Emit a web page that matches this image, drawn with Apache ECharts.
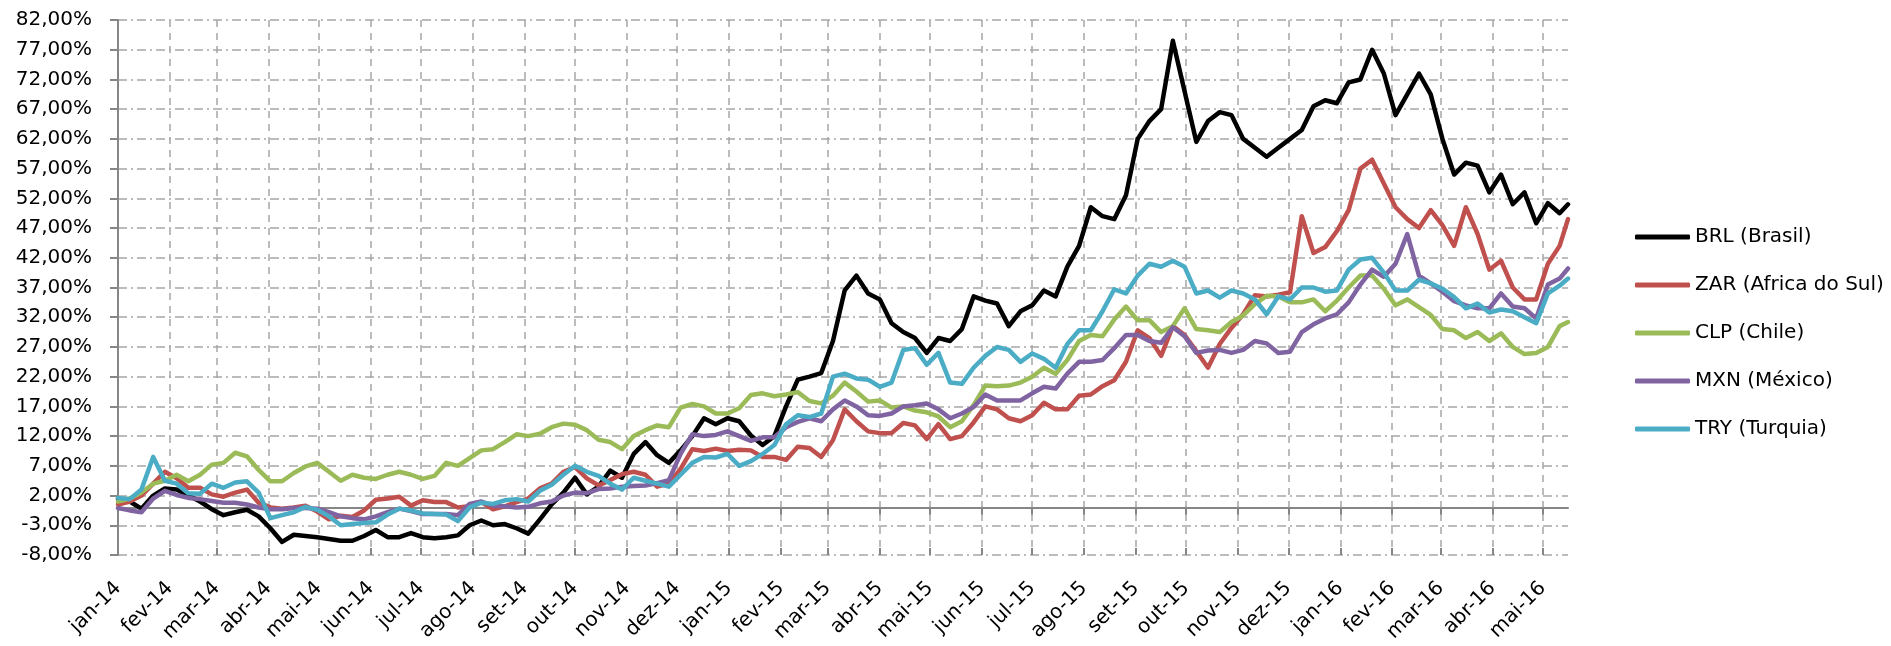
<!DOCTYPE html>
<html>
<head>
<meta charset="UTF-8">
<title>Moedas emergentes</title>
<script src="https://cdn.jsdelivr.net/npm/echarts@6/dist/echarts.min.js"></script>
<style>
	html, body { margin: 0; padding: 0; background: #fff; }
	#container { width: 1891px; height: 646px; }
</style>
</head>
<body>
	<div id="container"></div>
	<script type="text/javascript">
		// meses para os rotulos do eixo x
		var meses = ['jan', 'fev', 'mar', 'abr', 'mai', 'jun', 'jul', 'ago', 'set', 'out', 'nov', 'dez'];

		// pontos semanais: dias desde 01/01/2014 (ultimo ponto em 16/05/2016)
		var dias = [];
		for (var k = 0; k <= 123; k++) {
			dias.push(k * 7);
		}
		dias.push(866);

		// variacao acumulada (%)
		var brl = [1.5, 1.0, -0.2, 2.0, 3.2, 3.0, 2.0, 1.0, -0.3, -1.3,
			-0.8, -0.4, -1.5, -3.5, -5.8, -4.6, -4.8, -5.0, -5.3, -5.6,
			-5.6, -4.8, -3.8, -5.0, -5.0, -4.3, -5.0, -5.2, -5.0, -4.7,
			-3.0, -2.2, -3.0, -2.8, -3.5, -4.4, -2.0, 0.5, 2.5, 5.0,
			2.2, 3.5, 6.2, 5.0, 9.0, 11.0, 8.8, 7.5, 9.6, 12.0,
			15.0, 14.0, 15.0, 14.5, 12.1, 10.5, 12.0, 17.0, 21.5, 22.0,
			22.6, 28.0, 36.5, 39.0, 36.0, 35.0, 31.0, 29.5, 28.5, 26.0,
			28.5, 28.0, 30.0, 35.5, 34.8, 34.3, 30.5, 33.0, 34.0, 36.5,
			35.5, 40.5, 44.0, 50.5, 49.0, 48.5, 52.5, 62.0, 65.0, 67.0,
			78.5, 70.0, 61.5, 65.0, 66.5, 66.0, 62.0, 60.5, 59.0, 60.5,
			62.0, 63.5, 67.5, 68.5, 68.0, 71.5, 72.0, 77.0, 73.0, 66.0,
			69.5, 73.0, 69.5, 62.0, 56.0, 58.0, 57.5, 53.0, 56.0, 51.0,
			53.0, 47.8, 51.2, 49.5, 51.0];
		var zar = [0.5, 1.0, 2.0, 4.0, 6.0, 4.9, 3.3, 3.3, 2.2, 1.8,
			2.5, 3.0, 0.8, 0.0, -0.2, 0.0, 0.3, -0.7, -2.0, -1.4,
			-1.6, -0.5, 1.3, 1.5, 1.8, 0.3, 1.2, 0.9, 0.9, 0.0,
			0.2, 0.9, -0.3, 0.2, 0.9, 1.5, 3.2, 4.0, 6.0, 6.8,
			4.9, 3.7, 4.6, 5.6, 6.0, 5.5, 3.5, 4.0, 6.5, 9.8,
			9.5, 9.9, 9.5, 9.7, 9.6, 8.5, 8.5, 8.0, 10.2, 10.0,
			8.5, 11.3, 16.5, 14.5, 12.8, 12.5, 12.5, 14.2, 13.8, 11.5,
			14.0, 11.5, 12.0, 14.3, 17.0, 16.5, 15.0, 14.5, 15.5, 17.6,
			16.5, 16.5, 18.8, 19.0, 20.4, 21.4, 24.5, 29.8, 28.5, 25.5,
			30.5, 29.0, 26.3, 23.5, 27.5, 30.2, 32.5, 35.7, 35.5, 35.8,
			36.2, 49.0, 42.8, 43.8, 46.5, 50.0, 57.0, 58.5, 54.5, 50.5,
			48.5, 47.0, 50.0, 47.5, 44.0, 50.5, 46.0, 40.0, 41.5, 37.0,
			35.0, 35.0, 41.0, 44.0, 48.5];
		var clp = [1.0, 1.5, 2.5, 4.0, 4.5, 5.5, 4.4, 5.5, 7.2, 7.5,
			9.2, 8.6, 6.3, 4.4, 4.4, 5.8, 6.9, 7.5, 6.0, 4.5,
			5.5, 5.0, 4.8, 5.5, 6.0, 5.5, 4.8, 5.3, 7.5, 7.0,
			8.3, 9.6, 9.8, 11.0, 12.3, 12.0, 12.4, 13.5, 14.1, 13.9,
			13.0, 11.4, 11.0, 9.8, 12.0, 13.0, 13.8, 13.5, 16.8, 17.4,
			17.0, 15.8, 15.8, 16.7, 18.9, 19.2, 18.7, 19.0, 19.4, 17.9,
			17.5, 18.8, 21.0, 19.5, 17.8, 18.0, 16.8, 17.0, 16.3, 16.0,
			15.3, 13.5, 14.5, 17.2, 20.5, 20.4, 20.5, 21.0, 22.0, 23.5,
			22.5, 24.8, 28.0, 29.0, 28.8, 31.6, 33.8, 31.5, 31.5, 29.5,
			30.5, 33.5, 30.0, 29.8, 29.5, 31.2, 32.3, 34.2, 35.6, 35.5,
			34.5, 34.5, 35.0, 33.0, 34.8, 37.0, 39.0, 39.0, 36.8, 34.0,
			35.0, 33.7, 32.4, 30.0, 29.8, 28.5, 29.5, 28.0, 29.3, 27.0,
			25.8, 26.0, 27.0, 30.5, 31.2];
		var mxn = [-0.1, -0.5, -0.8, 1.5, 2.8, 2.1, 1.6, 1.4, 1.1, 0.8,
			0.8, 0.5, 0.0, -0.3, -0.3, -0.1, -0.1, -0.2, -0.8, -1.5,
			-1.8, -2.0, -1.5, -0.8, -0.2, -0.6, -1.1, -1.1, -1.1, -1.3,
			0.6, 1.0, 0.3, 0.2, 0.0, 0.1, 0.7, 1.0, 2.0, 2.5,
			2.4, 3.1, 3.2, 3.5, 3.6, 3.7, 4.1, 4.6, 9.0, 12.3,
			12.0, 12.2, 12.8, 12.0, 11.2, 11.8, 11.8, 13.5, 14.4, 15.0,
			14.5, 16.5, 18.0, 17.0, 15.5, 15.4, 15.8, 17.0, 17.2, 17.5,
			16.5, 15.0, 15.8, 16.9, 19.0, 18.0, 18.0, 18.0, 19.2, 20.3,
			20.0, 22.5, 24.5, 24.5, 24.8, 26.8, 29.0, 29.0, 28.0, 27.7,
			30.3, 28.8, 26.0, 26.4, 26.5, 26.0, 26.5, 28.0, 27.6, 26.0,
			26.2, 29.5, 30.8, 31.8, 32.5, 34.5, 37.5, 40.0, 38.8, 41.0,
			46.0, 39.0, 37.7, 36.3, 34.7, 34.0, 33.5, 33.5, 36.0, 33.8,
			33.5, 31.8, 37.5, 38.5, 40.2];
		var tryl = [1.6, 1.4, 3.0, 8.5, 4.5, 4.0, 2.4, 2.3, 4.0, 3.3,
			4.2, 4.4, 2.5, -1.8, -1.3, -0.8, 0.1, -0.4, -1.5, -3.0,
			-2.8, -2.6, -2.5, -1.2, -0.2, -0.5, -1.0, -1.1, -1.2, -2.3,
			0.0, 0.8, 0.6, 1.2, 1.4, 1.0, 2.8, 3.8, 5.5, 7.0,
			6.0, 5.3, 4.0, 3.0, 5.0, 4.5, 4.0, 3.5, 5.5, 7.5,
			8.5, 8.4, 9.0, 7.0, 7.8, 9.0, 10.5, 14.0, 15.5, 15.2,
			15.8, 22.0, 22.5, 21.7, 21.5, 20.3, 21.0, 26.5, 26.8, 24.0,
			26.0, 21.0, 20.8, 23.5, 25.5, 27.0, 26.5, 24.5, 25.9, 25.0,
			23.5, 27.5, 29.8, 29.8, 33.0, 36.7, 36.0, 39.0, 41.0, 40.5,
			41.5, 40.5, 36.0, 36.5, 35.3, 36.5, 36.0, 35.0, 32.5, 35.5,
			35.0, 37.0, 37.0, 36.3, 36.5, 40.0, 41.7, 42.0, 39.5, 36.5,
			36.5, 38.3, 37.7, 36.8, 35.4, 33.5, 34.3, 32.8, 33.3, 33.0,
			32.0, 31.0, 36.0, 37.3, 38.5];

		var nomes = ['BRL (Brasil)', 'ZAR (Africa do Sul)', 'CLP (Chile)', 'MXN (México)', 'TRY (Turquia)'];
		var cores = ['#000000', '#C0504D', '#9BBB59', '#8064A2', '#4BACC6'];
		var valores = [brl, zar, clp, mxn, tryl];

		// eixo x: um item por dia
		function dois(n) { return n < 10 ? '0' + n : '' + n; }
		var categorias = [];
		var inicio = Date.UTC(2014, 0, 1);
		for (var i = 0; i <= 866; i++) {
			var dt = new Date(inicio + i * 86400000);
			categorias.push(dt.getUTCFullYear() + '-' + dois(dt.getUTCMonth() + 1) + '-' + dois(dt.getUTCDate()));
		}
		function inicioMes(idx, val) {
			return val.slice(8) === '01';
		}
		function rotulo(val) {
			var p = val.split('-');
			return meses[+p[1] - 1] + '-' + p[0].slice(2);
		}

		var fonte = 'DejaVu Sans';
		var series = [];
		for (var s = 0; s < nomes.length; s++) {
			series.push({
				name : nomes[s],
				type : 'line',
				xAxisIndex : 0,
				symbol : 'none',
				smooth : false,
				color : cores[s],
				lineStyle : { width : 4.5, color : cores[s], cap : 'round', join : 'round' },
				data : valores[s].map(function(v, j) { return [dias[j], v]; })
			});
		}

		var dom = document.getElementById('container');
		var myChart = echarts.init(dom, null, { renderer : 'canvas' });
		var option = {
			animation : false,
			grid : { left : 118, right : 323, top : 20, bottom : 91 },
			legend : {
				orient : 'vertical',
				left : 1630,
				top : 220,
				icon : 'roundRect',
				itemWidth : 55,
				itemHeight : 5,
				itemGap : 24,
				textStyle : { fontFamily : fonte, fontSize : 20, color : '#000', lineHeight : 24 },
				data : nomes
			},
			xAxis : [ {
				type : 'category',
				data : categorias,
				boundaryGap : false,
				position : 'bottom',
				axisLine : { show : false, onZero : false },
				axisTick : { show : false },
				axisLabel : {
					interval : inicioMes,
					formatter : rotulo,
					rotate : 45,
					margin : 30,
					fontFamily : fonte,
					fontSize : 20,
					color : '#000'
				},
				splitLine : {
					show : true,
					interval : inicioMes,
					lineStyle : { color : '#A6A6A6', width : 1.5, type : [7, 6] }
				}
			}, {
				// linha do zero com marcas
				type : 'category',
				data : categorias,
				boundaryGap : false,
				position : 'bottom',
				axisLine : { show : true, onZero : true, lineStyle : { color : '#868686', width : 2 } },
				axisTick : { show : true, interval : inicioMes, length : 7, lineStyle : { color : '#868686', width : 2 } },
				axisLabel : { show : false },
				splitLine : { show : false }
			}, {
				type : 'category',
				data : categorias,
				boundaryGap : false,
				position : 'bottom',
				axisLine : { show : false, onZero : true },
				axisTick : { show : true, inside : true, interval : inicioMes, length : 7, lineStyle : { color : '#868686', width : 2 } },
				axisLabel : { show : false },
				splitLine : { show : false }
			} ],
			yAxis : {
				type : 'value',
				min : -8,
				max : 82,
				interval : 5,
				axisLine : { show : true, lineStyle : { color : '#868686', width : 2 } },
				axisTick : { show : true, length : 8, lineStyle : { color : '#868686', width : 2 } },
				axisLabel : {
					margin : 26,
					fontFamily : fonte,
					fontSize : 20,
					color : '#000',
					formatter : function(v) {
						return v.toFixed(2).replace('.', ',') + '%';
					}
				},
				splitLine : { show : true, lineStyle : { color : '#A6A6A6', width : 1.5, type : [9, 4, 2, 4] } }
			},
			series : series
		};
		myChart.setOption(option, true);
	</script>
</body>
</html>
